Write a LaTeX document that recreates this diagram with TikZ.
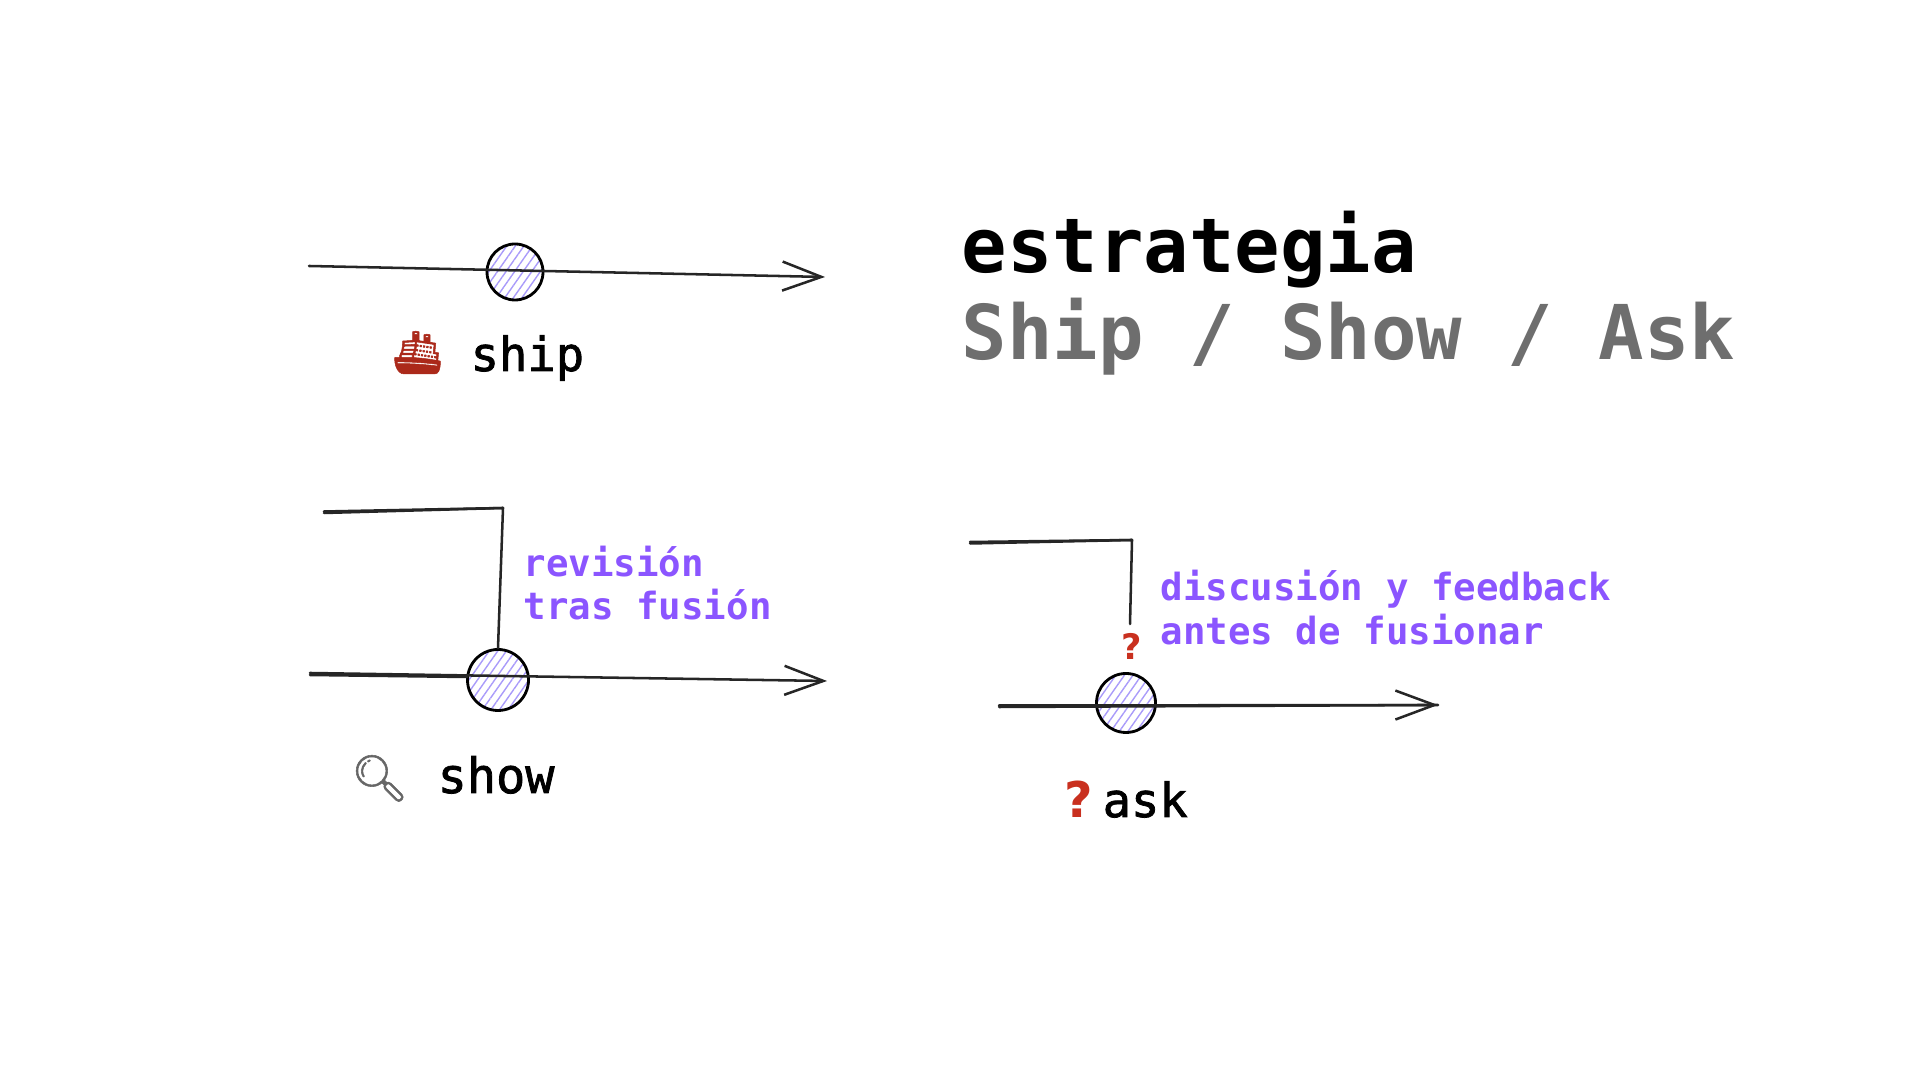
\documentclass[tikz,border=0pt]{standalone}
\usepackage{fontspec}
\setmonofont{DejaVu Sans Mono}
\newfontfamily\tagfont[FakeBold=1.6]{DejaVu Sans Mono}
\newfontfamily\emojifont[FakeBold=1.2]{Noto Emoji}
\newfontfamily\markfont{DejaVu Sans}
\usetikzlibrary{arrows.meta,patterns.meta}
\definecolor{hatchviolet}{HTML}{A99BFA}
\definecolor{noteviolet}{HTML}{8B55FF}
\definecolor{titlegray}{HTML}{6E6E6E}
\definecolor{askred}{HTML}{C9301F}
\tikzset{
  sketch/.style={line width=0.72pt,black!85,line cap=round,line join=round},
  timeline/.style={sketch,-{Straight Barb[length=3.9mm,width=2.9mm]}},
  commit/.style={circle,draw,line width=0.8pt,inner sep=0pt,minimum size=#1,
    pattern={Lines[angle=55,distance=2pt,line width=0.4pt]},pattern color=hatchviolet},
  txt/.style={anchor=base west,inner sep=0pt},
  tag/.style={txt,font=\tagfont\fontsize{13.4}{16}\selectfont},
  heading/.style={txt,font=\ttfamily\bfseries\fontsize{21.5}{25}\selectfont},
  note/.style={txt,text=noteviolet,font=\ttfamily\bfseries\fontsize{10.65}{12.2}\selectfont}
}
\begin{document}
\begin{tikzpicture}
  \useasboundingbox (0,0) rectangle (19.2,10.8);

  % ship
  \node[commit=5.6mm] (shipdot) at (5.15,8.08) {};
  \coordinate (shipstart) at (3.09,8.14);
  \coordinate (shipend) at (8.25,8.03);
  \draw[timeline] (shipstart) -- (shipend);
  \node[txt,text=askred!85!black,font=\emojifont\fontsize{12}{14}\selectfont] (shipicon) at (3.90,7.13) {🚢};
  \node[tag] (shiplabel) at (4.70,7.09) {ship};

  % show
  \node[commit=6.1mm] (showdot) at (4.98,4.00) {};
  \coordinate (showstart) at (3.10,4.07);
  \coordinate (showjoin) at (4.67,4.03);
  \coordinate (showend) at (8.27,3.99);
  \coordinate (showfrom) at (3.24,5.67);
  \coordinate (showcorner) at (5.03,5.72);
  \draw[timeline] (showstart) -- (showend);
  \draw[sketch] (showstart) ++(0,-0.02) -- (showjoin);
  \draw[sketch] (showfrom) -- (showcorner) -- (showdot.north);
  \draw[sketch] (showfrom) ++(0,0.015) -- (showcorner);
  \node[txt,text=black!60,font=\emojifont\fontsize{13}{15}\selectfont] (showicon) at (3.50,2.86) {🔍};
  \node[tag,font=\tagfont\fontsize{13.8}{16}\selectfont] (showlabel) at (4.37,2.87) {show};
  \node[note] (shownote1) at (5.23,5.03) {revisión};
  \node[note] (shownote2) at (5.23,4.60) {tras fusión};

  % ask
  \node[commit=5.9mm] (askdot) at (11.26,3.77) {};
  \coordinate (askstart) at (9.99,3.745);
  \coordinate (askend) at (14.38,3.75);
  \coordinate (askfrom) at (9.70,5.38);
  \coordinate (askcorner) at (11.32,5.40);
  \coordinate (askstop) at (11.30,4.56);
  \draw[timeline] (askstart) -- (askend);
  \draw[sketch] (askstart) ++(0,-0.015) -- (askend);
  \draw[sketch] (askfrom) -- (askcorner) -- (askstop);
  \draw[sketch] (askfrom) ++(0,-0.015) -- (askcorner);
  \node[txt,text=askred,font=\markfont\bfseries\fontsize{10}{12}\selectfont] (askmark) at (11.21,4.20) {?};
  \node[txt,text=askred,font=\markfont\bfseries\fontsize{14}{16}\selectfont] (askicon) at (10.64,2.62) {?};
  \node[tag] (asklabel) at (11.02,2.63) {ask};
  \node[note] (asknote1) at (11.60,4.79) {discusión y feedback};
  \node[note] (asknote2) at (11.60,4.35) {antes de fusionar};

  % title
  \node[heading] (title1) at (9.61,8.07) {estrategia};
  \node[heading,text=titlegray] (title2) at (9.61,7.20) {Ship / Show / Ask};
\end{tikzpicture}
\end{document}
